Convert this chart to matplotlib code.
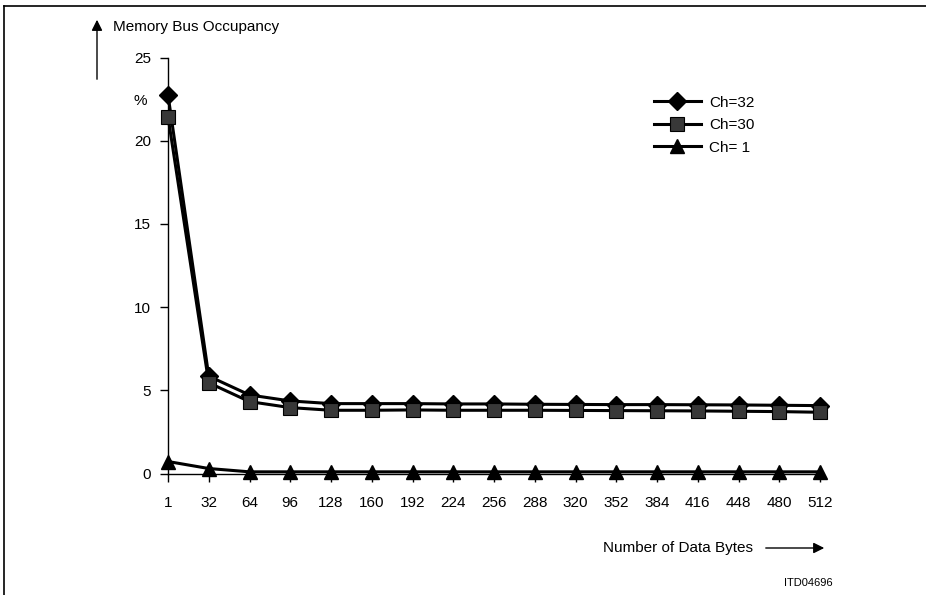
import matplotlib.pyplot as plt
from matplotlib.lines import Line2D

plt.rcParams['font.family'] = ['Liberation Sans', 'DejaVu Sans']

data_bytes = ['1', '32', '64', '96', '128', '160', '192', '224', '256',
              '288', '320', '352', '384', '416', '448', '480', '512']
ch32 = [22.75, 5.85, 4.72, 4.36, 4.2, 4.2, 4.2, 4.18, 4.18, 4.16, 4.15,
        4.14, 4.14, 4.13, 4.12, 4.1, 4.08]
ch30 = [21.45, 5.45, 4.32, 3.96, 3.8, 3.8, 3.82, 3.8, 3.8, 3.8, 3.79,
        3.78, 3.77, 3.76, 3.74, 3.72, 3.68]
ch1 = [0.72, 0.3, 0.1, 0.1, 0.1, 0.1, 0.1, 0.1, 0.1, 0.1, 0.1,
       0.1, 0.1, 0.1, 0.1, 0.1, 0.1]
y_ticks = [0, 5, 10, 15, 20, 25]

fs = 11
fig = plt.figure(figsize=(9.26, 5.95), dpi=100)
ax = fig.add_axes([168 / 926, 1 - 473.5 / 595, 652 / 926, 416 / 595])

x = list(range(len(data_bytes)))
lw = 2.2
sq_face = '#383838'
ax.plot(x, ch32, color='black', lw=lw, marker='D', ms=9, mfc='black',
        mec='black', clip_on=False, zorder=3)
ax.plot(x, ch30, color='black', lw=lw, marker='s', ms=9.5, mfc=sq_face,
        mec='black', mew=0.8, clip_on=False, zorder=4)
ax.plot(x, ch1, color='black', lw=lw, marker='^', ms=10, mfc='black',
        mec='black', clip_on=False, zorder=5)

ax.set_xlim(0, len(data_bytes) - 1)
ax.set_ylim(0, 25)
ax.set_xticks(x)
ax.set_xticklabels(data_bytes)
ax.set_yticks(y_ticks)
for s in ['top', 'right']:
    ax.spines[s].set_visible(False)
ax.spines['left'].set_linewidth(1.0)
ax.spines['bottom'].set_linewidth(1.0)
ax.tick_params(axis='both', direction='out', length=6, width=1.0,
               labelsize=fs)
ax.tick_params(axis='x', pad=10)
ax.tick_params(axis='y', pad=6)

handles = [
    Line2D([], [], color='black', lw=lw, marker='D', ms=9),
    Line2D([], [], color='black', lw=lw, marker='s', ms=9.5,
           mfc=sq_face, mec='black', mew=0.8),
    Line2D([], [], color='black', lw=lw, marker='^', ms=10),
]
fig.legend(handles, ['Ch=32', 'Ch=30', 'Ch= 1'], frameon=False,
           loc='upper left', bbox_to_anchor=(640 / 926, 1 - 82 / 595),
           fontsize=fs, handlelength=3.1, labelspacing=0.55,
           handletextpad=0.5)

# axis annotations
fig.text(113 / 926, 1 - 27 / 595, 'Memory Bus Occupancy', fontsize=fs,
         va='center', ha='left')
fig.add_artist(plt.Annotation('', xy=(97 / 926, 1 - 17 / 595),
                              xytext=(97 / 926, 1 - 82 / 595),
                              xycoords='figure fraction',
                              arrowprops=dict(arrowstyle='-|>', color='black',
                                              lw=1.0, mutation_scale=16)))
fig.text(140 / 926, 1 - 101 / 595, '%', fontsize=fs, va='center',
         ha='center')
fig.text(603 / 926, 1 - 548 / 595, 'Number of Data Bytes', fontsize=fs,
         va='center', ha='left')
fig.add_artist(plt.Annotation('', xy=(827 / 926, 1 - 548 / 595),
                              xytext=(763 / 926, 1 - 548 / 595),
                              xycoords='figure fraction',
                              arrowprops=dict(arrowstyle='-|>', color='black',
                                              lw=1.0, mutation_scale=16)))
fig.text(833 / 926, 1 - 583 / 595, 'ITD04696', fontsize=8, va='center',
         ha='right')

# frame lines on left and top edges
fig.add_artist(Line2D([4 / 926, 4 / 926], [0, 1 - 6 / 595], color='black',
                      lw=1.2))
fig.add_artist(Line2D([4 / 926, 1], [1 - 6 / 595, 1 - 6 / 595],
                      color='black', lw=1.2))

fig.savefig('out.png', dpi=100)
